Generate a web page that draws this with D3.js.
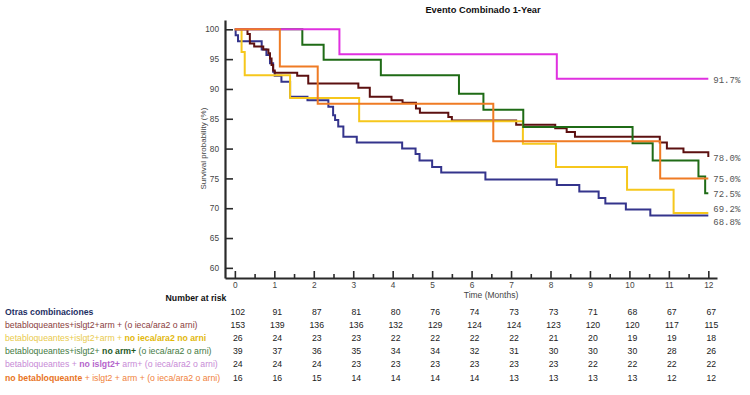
<!DOCTYPE html>
<html>
<head>
<meta charset="utf-8">
<script src="https://cdn.jsdelivr.net/npm/d3@7"></script>
<style>
  body { margin: 0; background: #fff; }
  svg { display: block; font-family: "Liberation Sans", Arial, sans-serif; }
</style>
</head>
<body>
<div id="chart"></div>
<script>
// Data
const monthTicks = [0, 1, 2, 3, 4, 5, 6, 7, 8, 9, 10, 11, 12]
const yTicks = [60, 65, 70, 75, 80, 85, 90, 95, 100]

// event times (months) and survival (%) after each step
const otrasT = [0.02, 0.08, 0.68, 0.80, 0.89, 0.97, 1.01, 1.18, 1.40, 1.84, 2.37, 2.49, 2.54, 2.62, 2.75, 3.09, 4.24, 4.58, 4.68, 5.00, 5.23, 6.35, 8.16, 8.73, 9.22, 9.39, 9.91, 10.53]
const otrasS = [99.0, 98.0, 96.6, 95.7, 94.3, 92.9, 92.2, 91.2, 88.7, 88.1, 87.0, 85.6, 84.8, 83.7, 82.0, 81.0, 80.0, 79.1, 78.0, 76.9, 76.0, 74.8, 73.9, 72.8, 71.7, 70.8, 69.8, 68.8]

const maroonT = [0.32, 0.38, 0.49, 0.72, 0.85, 0.89, 0.93, 0.97, 1.01, 1.58, 1.86, 3.13, 3.42, 3.97, 4.25, 4.59, 4.69, 5.41, 5.50, 7.13, 8.12, 8.41, 8.62, 10.77, 10.95, 11.37, 12.0]
const maroonS = [99.2, 97.6, 97.1, 96.6, 96.0, 95.1, 94.0, 93.1, 92.7, 92.2, 90.9, 90.2, 88.7, 88.1, 87.7, 86.7, 86.0, 85.3, 84.7, 84.0, 83.4, 82.8, 82.0, 81.0, 80.0, 79.4, 78.6]

const yellowT = [0.17, 0.25, 1.40, 3.15, 7.30, 8.14, 9.94, 11.12]
const yellowS = [96.2, 92.3, 88.5, 84.6, 80.8, 76.9, 73.1, 69.2]

const greenT = [1.71, 2.25, 3.70, 5.68, 6.30, 7.31, 10.08, 10.59, 11.75, 11.92]
const greenS = [97.4, 94.9, 92.3, 89.2, 86.5, 83.6, 80.9, 78.0, 75.3, 72.5]

const magentaT = [2.65, 8.16]
const magentaS = [95.8, 91.7]

const orangeT = [1.14, 2.10, 6.55, 10.78]
const orangeS = [93.75, 87.5, 81.25, 75.0]

const endLabels = ['68.8%', '78.0%', '69.2%', '72.5%', '91.7%', '75.0%']

// number at risk per group at months 0..12
const riskOtras = [102, 91, 87, 81, 80, 76, 74, 73, 73, 71, 68, 67, 67]
const riskMaroon = [153, 139, 136, 136, 132, 129, 124, 124, 123, 120, 120, 117, 115]
const riskYellow = [26, 24, 23, 23, 22, 22, 22, 22, 21, 20, 19, 19, 18]
const riskGreen = [39, 37, 36, 35, 34, 34, 32, 31, 30, 30, 30, 28, 26]
const riskMagenta = [24, 24, 24, 23, 23, 23, 23, 23, 23, 22, 22, 22, 22]
const riskOrange = [16, 16, 15, 14, 14, 14, 14, 13, 13, 13, 13, 12, 12]

// label pieces: odd index = emphasised part
const riskLabels = [
  ['', 'Otras combinaciones'],
  ['betabloqueantes+islgt2+arm + (o ieca/ara2 o arni)'],
  ['betabloqueantes+islgt2+arm + ', 'no ieca/ara2 no arni'],
  ['betabloqueantes+islgt2+ ', 'no arm+', ' (o ieca/ara2 o arni)'],
  ['betabloqueantes + ', 'no islgt2+', ' arm+ (o ieca/ara2 o arni)'],
  ['', 'no betabloqueante', ' + islgt2 + arm + (o ieca/ara2 o arni)']
]

const lineColors = ['#34348c', '#5c1010', '#f6c71c', '#1f6b16', '#e030e0', '#ef7b24']
const labelColors = ['#1e2f63', '#8a3d3d', '#e9ca4c', '#437a43', '#c78ad6', '#f0823a']
const boldColors = ['#1e2f63', '#8a3d3d', '#e2b80c', '#1f5a1f', '#b565cc', '#e8741e']

const series = [
  [otrasT, otrasS], [maroonT, maroonS], [yellowT, yellowS],
  [greenT, greenS], [magentaT, magentaS], [orangeT, orangeS]
]
const risk = [riskOtras, riskMaroon, riskYellow, riskGreen, riskMagenta, riskOrange]

// Setting up the svg, scales and axes
const W = 750, H = 395
const svg = d3.select('#chart').append('svg')
  .attr('width', W)
  .attr('height', H)

const x = d3.scaleLinear().domain([-0.25, 12.22]).range([225, 717])
const y = d3.scaleLinear().domain([58.3, 101.56]).range([278, 20])

svg.append('text')
  .attr('x', 483)
  .attr('y', 12.5)
  .attr('text-anchor', 'middle')
  .style('font-size', '9.3px')
  .style('font-weight', 'bold')
  .attr('fill', '#111')
  .text('Evento Combinado 1-Year')

// y axis, ticks point inwards
const yAxis = svg.append('g')
  .attr('transform', `translate(${x.range()[0]},0)`)
  .call(d3.axisLeft(y).tickValues(yTicks).tickSizeInner(-8).tickSizeOuter(0).tickPadding(6))
// x axis: major and half-month minor ticks
const xAxis = svg.append('g')
  .attr('transform', `translate(0,${y.range()[0]})`)
  .call(d3.axisBottom(x).tickValues(monthTicks).tickSizeInner(-7).tickSizeOuter(0).tickPadding(4))
const xMinor = svg.append('g')
  .attr('transform', `translate(0,${y.range()[0]})`)
  .call(d3.axisBottom(x).tickValues(monthTicks.slice(0, -1).map(d => d + 0.5)).tickSizeInner(-4).tickSizeOuter(0).tickFormat(''))
xMinor.select('.domain').remove()

;[yAxis, xAxis, xMinor].forEach(a => {
  a.selectAll('path, line').attr('stroke', '#2a2a2a').attr('stroke-width', 1.6)
  a.selectAll('text').attr('fill', '#444').style('font-size', '8.3px')
    .style('font-family', '"Liberation Sans", Arial, sans-serif')
})
yAxis.select('.domain').attr('stroke-width', 2.2)
xAxis.select('.domain').attr('stroke-width', 2.2)

svg.append('text')
  .attr('transform', `translate(203,${(y(60) + y(100)) / 2}) rotate(-90)`)
  .attr('text-anchor', 'middle')
  .attr('dy', '0.35em')
  .style('font-size', '8px')
  .attr('fill', '#444')
  .text('Survival probability (%)')

svg.append('text')
  .attr('x', 491)
  .attr('y', 298)
  .attr('text-anchor', 'middle')
  .style('font-size', '8.5px')
  .attr('fill', '#444')
  .text('Time (Months)')

// Kaplan-Meier steps
const lineGen = d3.line()
  .x(d => x(d[0]))
  .y(d => y(d[1]))
  .curve(d3.curveStepAfter)

const pts = series.map(([t, s]) => {
  const p = [[0, 100]].concat(t.map((d, i) => [d, s[i]]))
  p.push([12, s[s.length - 1]])
  return p
})

svg.append('g').selectAll('path')
  .data(pts)
  .join('path')
  .attr('d', lineGen)
  .attr('fill', 'none')
  .attr('stroke', (d, i) => lineColors[i])
  .attr('stroke-width', 2)

// end labels, pushed apart if they collide
const ends = series.map(([t, s], i) => ({ i, y: y(s[s.length - 1]) + 3 }))
  .sort((a, b) => a.y - b.y)
for (let k = 1; k < ends.length; k++) {
  if (ends[k].y - ends[k - 1].y < 13) {
    const mid = (ends[k].y + ends[k - 1].y) / 2
    ends[k - 1].y = mid - 6.6
    ends[k].y = mid + 6.6
  }
}
svg.append('g').selectAll('text')
  .data(ends)
  .join('text')
  .attr('x', x(12) + 5)
  .attr('y', d => d.y + 1)
  .style('font-family', '"Liberation Mono", "Courier New", monospace')
  .style('font-size', '9px')
  .attr('fill', '#555')
  .text(d => endLabels[d.i])

// Number at risk table
svg.append('text')
  .attr('x', 196)
  .attr('y', 300.5)
  .attr('text-anchor', 'middle')
  .style('font-size', '8.7px')
  .style('font-weight', 'bold')
  .attr('fill', '#111')
  .text('Number at risk')

const rowY = i => 314.8 + i * 13.15

riskLabels.forEach((parts, i) => {
  const t = svg.append('text')
    .attr('x', 5)
    .attr('y', rowY(i))
    .style('font-size', '8.7px')
  parts.forEach((p, k) => {
    t.append('tspan')
      .attr('fill', k % 2 ? boldColors[i] : labelColors[i])
      .style('font-weight', k % 2 ? 'bold' : 'normal')
      .text(p)
  })
  svg.append('g').selectAll('text')
    .data(risk[i])
    .join('text')
    .attr('x', (d, m) => x(monthTicks[m]) + 3)
    .attr('y', rowY(i))
    .attr('text-anchor', 'middle')
    .style('font-size', '8.7px')
    .attr('fill', '#222')
    .text(d => d)
})
</script>
</body>
</html>
